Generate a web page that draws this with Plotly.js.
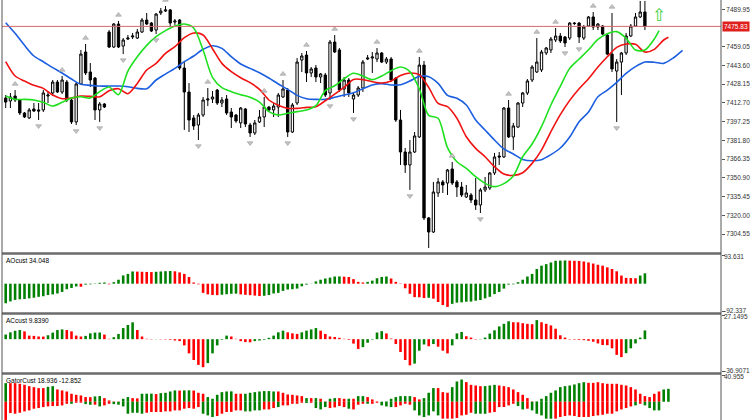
<!DOCTYPE html>
<html><head><meta charset="utf-8">
<script src="https://cdn.plot.ly/plotly-3.0.1.min.js"></script>
<style>html,body{margin:0;padding:0;background:#fff;}#chart{width:752px;height:420px;}</style>
</head><body><div id="chart"></div>
<script>
// ---------- price data (bar index 0..136) ----------
const openP = [
7416.7,7414.3,7418.4,7415.1,7404.4,7400.3,7407.7,7406.9,7406.9,7418.4,
7420.9,7429.9,7421.7,7429.9,7415.1,7397.0,7428.3,7454.7,7438.2,7433.2,
7406.9,7411.8,7471.2,7458.8,7477.8,7459.6,7465.4,7467.1,7466.2,7471.2,
7481.1,7478.6,7472.8,7486.9,7488.5,7489.4,7479.4,7481.1,7441.5,7421.7,
7400.3,7394.5,7402.7,7415.1,7415.9,7423.3,7412.6,7415.9,7405.2,7402.7,
7396.2,7407.7,7394.5,7387.9,7397.0,7401.1,7409.3,7406.9,7409.3,7417.6,
7423.3,7388.7,7412.6,7448.1,7452.2,7437.4,7441.5,7434.1,7435.7,7420.9,
7462.9,7456.4,7424.2,7431.6,7415.9,7419.2,7425.0,7448.9,7449.7,7448.9,
7453.9,7446.4,7448.9,7433.2,7398.6,7372.2,7361.5,7372.2,7384.6,7443.9,
7317.8,7306.2,7338.4,7347.5,7346.6,7358.2,7347.5,7343.3,7335.1,7336.7,
7332.6,7328.5,7340.9,7342.5,7354.9,7368.9,7368.1,7408.5,7384.6,7392.8,
7412.6,7420.9,7431.6,7438.2,7439.9,7453.9,7456.4,7464.6,7467.9,7467.1,
7466.2,7478.6,7478.6,7466.2,7476.1,7483.6,7475.3,7476.1,7468.7,7453.0,
7439.0,7446.4,7453.9,7467.9,7476.1,7483.6,7487.7];
const highP = [
7419.2,7420.9,7423.3,7415.9,7405.2,7408.5,7412.6,7412.6,7423.3,7422.5,
7431.6,7431.6,7434.9,7431.6,7416.7,7429.9,7456.4,7461.3,7445.6,7434.1,
7413.4,7412.6,7472.8,7478.6,7480.3,7466.2,7468.7,7470.4,7473.7,7482.7,
7486.9,7479.4,7486.9,7491.0,7492.6,7490.2,7481.9,7481.9,7446.4,7429.1,
7402.7,7404.4,7417.6,7425.0,7422.5,7424.2,7417.6,7419.2,7408.5,7403.5,
7409.3,7408.5,7396.2,7398.6,7406.9,7417.6,7410.1,7412.6,7420.9,7431.6,
7425.0,7412.6,7449.7,7453.9,7455.5,7442.3,7444.0,7437.4,7437.4,7464.6,
7468.7,7458.0,7434.1,7433.2,7420.9,7426.6,7448.1,7452.2,7454.7,7458.0,
7454.7,7450.6,7450.6,7434.1,7406.9,7375.5,7382.1,7388.7,7450.6,7447.3,
7318.6,7347.5,7350.8,7349.1,7358.2,7364.0,7349.1,7347.5,7345.0,7338.4,
7350.8,7342.5,7351.6,7355.7,7371.4,7372.2,7409.3,7415.1,7396.2,7413.4,
7421.7,7432.4,7443.9,7466.2,7456.4,7458.8,7467.1,7474.5,7470.4,7467.9,
7479.4,7479.4,7479.4,7477.0,7484.4,7487.7,7478.6,7476.9,7470.4,7486.9,
7448.9,7454.7,7470.4,7477.8,7486.9,7496.8,7496.8];
const lowP = [
7408.5,7408.5,7413.4,7402.7,7400.3,7399.4,7405.2,7398.6,7405.2,7412.6,
7418.4,7420.9,7420.0,7413.4,7395.3,7394.5,7427.5,7435.7,7425.8,7398.6,
7397.0,7408.5,7458.0,7458.0,7458.0,7453.0,7464.6,7465.4,7465.4,7470.4,
7477.0,7471.2,7469.5,7485.2,7487.7,7475.3,7477.0,7439.9,7390.4,7388.7,
7390.4,7382.1,7401.1,7410.1,7412.6,7411.0,7409.3,7402.7,7392.0,7396.2,
7392.0,7392.8,7384.6,7386.2,7396.2,7392.8,7405.2,7401.1,7401.1,7416.7,
7384.6,7387.9,7411.0,7438.2,7429.9,7434.1,7429.9,7429.1,7417.6,7415.1,
7453.9,7421.7,7417.6,7417.6,7404.4,7417.6,7421.7,7448.1,7437.4,7446.4,
7445.6,7444.8,7429.9,7397.0,7361.5,7354.9,7340.9,7371.4,7383.8,7316.1,
7293.0,7305.4,7335.1,7338.4,7336.7,7345.0,7335.1,7335.1,7334.2,7330.1,
7324.4,7321.9,7339.2,7340.9,7353.2,7361.5,7367.3,7383.8,7373.9,7392.0,
7409.3,7419.2,7429.9,7437.4,7438.2,7452.2,7453.9,7462.9,7462.1,7458.8,
7464.6,7477.0,7462.1,7464.6,7475.3,7472.8,7472.8,7468.7,7452.2,7438.2,
7397.0,7419.2,7452.2,7467.1,7475.3,7482.7,7472.8];
const closeP = [
7413.4,7417.6,7415.1,7404.4,7401.1,7406.9,7406.0,7406.0,7420.9,7419.2,
7429.9,7421.7,7431.6,7415.1,7397.0,7428.3,7453.0,7437.4,7431.6,7406.9,
7411.8,7409.3,7458.8,7477.8,7458.8,7464.6,7466.2,7467.9,7471.2,7481.1,
7477.8,7472.0,7486.0,7488.5,7489.4,7478.6,7480.3,7441.5,7421.7,7398.6,
7393.7,7402.7,7415.1,7415.9,7417.6,7412.6,7415.1,7404.4,7401.1,7397.8,
7408.5,7395.3,7387.9,7396.2,7401.1,7409.3,7406.9,7410.1,7419.2,7424.2,
7388.7,7411.0,7446.4,7451.4,7437.4,7440.7,7434.1,7436.6,7419.2,7462.9,
7454.7,7423.4,7431.6,7420.9,7419.2,7425.0,7446.4,7449.7,7450.6,7453.9,
7446.4,7448.9,7431.6,7398.6,7372.2,7361.5,7372.2,7385.4,7443.9,7317.8,
7306.2,7339.2,7347.5,7345.0,7357.4,7346.6,7343.3,7336.7,7338.4,7332.6,
7328.5,7340.9,7343.3,7354.9,7368.1,7368.1,7408.5,7384.6,7393.7,7412.6,
7420.9,7430.8,7442.3,7446.4,7454.7,7458.0,7465.4,7467.9,7463.8,7462.1,
7478.6,7478.2,7467.1,7475.3,7483.6,7475.3,7477.8,7469.5,7453.0,7440.7,
7446.4,7453.9,7467.9,7476.1,7483.6,7487.7,7475.83];

// ---------- Alligator lines (sampled every 2 bars, already shifted) ----------
const jawIdx = [];  for (let i = 0; i <= 144; i += 2) jawIdx.push(i);
const teethIdx = []; for (let i = 0; i <= 140; i += 2) teethIdx.push(i); teethIdx.push(141);
const lipsIdx = [];  for (let i = 0; i <= 138; i += 2) lipsIdx.push(i); lipsIdx.push(139);
const jawVals = [
7478.9,7470.1,7460.2,7451.4,7446.7,7441.8,7437.4,7432.4,7428.0,7427.2,
7426.6,7426.6,7426.6,7426.1,7424.7,7424.4,7431.6,7436.5,7441.2,7446.7,
7451.4,7456.9,7459.9,7457.7,7450.8,7444.8,7441.2,7437.6,7433.2,7428.3,
7423.9,7418.9,7416.2,7415.6,7415.6,7417.3,7419.2,7421.1,7424.4,7427.5,
7428.6,7427.5,7427.7,7430.8,7434.6,7434.3,7428.8,7418.9,7416.5,7411.0,
7398.6,7390.3,7382.1,7374.7,7370.6,7366.1,7365.0,7365.9,7370.0,7375.5,
7384.6,7397.2,7405.2,7417.8,7423.3,7429.7,7437.1,7442.6,7446.4,7446.2,
7445.3,7449.7,7456.1];
const teethVals = [
7446.7,7434.9,7430.8,7427.2,7424.7,7419.2,7416.2,7416.7,7418.4,7418.1,
7417.8,7422.8,7424.4,7420.3,7428.8,7439.8,7445.3,7453.6,7459.1,7466.5,
7470.4,7468.7,7457.4,7445.3,7438.5,7433.5,7429.4,7423.9,7415.1,7410.7,
7408.2,7408.2,7409.0,7409.6,7414.5,7420.0,7425.5,7432.1,7431.9,7430.2,
7429.1,7430.8,7435.4,7437.4,7436.0,7425.5,7412.3,7409.6,7400.0,7384.8,
7375.2,7368.3,7360.1,7354.0,7352.9,7355.1,7362.8,7373.8,7389.0,7403.0,
7414.8,7424.4,7432.7,7442.3,7450.8,7458.5,7461.3,7461.0,7454.7,7456.9,
7464.6,7466.8];
const lipsVals = [
7418.4,7415.6,7415.6,7415.1,7413.2,7410.1,7413.2,7416.7,7417.8,7416.7,
7422.0,7425.8,7419.5,7439.0,7450.8,7460.2,7467.3,7472.3,7476.1,7477.8,
7474.5,7456.3,7433.8,7425.3,7422.0,7419.5,7417.3,7413.4,7405.5,7402.7,
7404.1,7405.5,7406.8,7410.4,7422.8,7426.9,7432.7,7437.1,7434.9,7431.9,
7434.9,7439.3,7442.3,7438.5,7424.4,7402.4,7400.0,7375.8,7364.2,7358.7,
7351.8,7346.3,7343.6,7346.1,7352.4,7368.3,7378.8,7393.1,7411.0,7426.4,
7441.2,7448.9,7456.6,7465.1,7469.8,7471.5,7466.0,7456.3,7456.3,7465.4,
7472.3];

// ---------- fractals & signal ----------
const fractalUpIdx = [2,12,17,24,34,43,55,59,64,70,79,88,95,107,113,117,125,129];
const fractalDownIdx = [7,15,20,25,32,41,52,60,69,74,86,101,119,122,130];
const signalIdx = [139];
const signalPrice = [7484];

// ---------- oscillators ----------
const aoVals = [
-64,-58,-53,-51,-50,-48,-46,-43,-41,-37,
-35,-32,-27,-18,-14,-9,-10,-3,-2,1,
3,4,-2,5,13,27,32,40,39.5,39,
38.5,38,39,40,41,41.5,40.5,37,32,22,
4,-2,-30,-35,-37,-37.5,-36,-34.5,-33,-32.5,
-35,-36.5,-37.5,-39,-40.5,-39.5,-37,-32,-30,-23.5,
-19,-18,-16,-8.5,-3,0.5,7.5,13,17,20,
23.5,23.8,23,22,15,6,4,6,10,18,
22,23.5,17,6,-1,-15,-33,-44,-44.5,-47,
-46,-49,-60,-70,-76,-66,-62,-61,-59,-58.5,
-55.6,-53.5,-48,-43,-34,-27,-16,-3,-2,5,
13,23.5,32,48,59,64,69.5,75,75.5,76,
75.5,75,74.5,72.7,69.5,66,62,59,53.5,48,
40.6,26.7,19,18.5,18,26.7,34.048];
const acVals = [
5.2,7.7,9.5,10.3,8.8,4,3.7,3,2.9,4.4,
7.4,10.3,11,10.3,8.8,4,3,3.7,6.6,7.4,
7.5,5.2,0.4,2.2,5.9,12.5,16,19,10.3,3,
0.4,-0.3,-0.2,-0.3,-0.4,-0.7,-1.5,-2.2,-7,-16,
-23.5,-29,-31.6,-27,-16,-7,-0.7,4,3,0.4,
-2.2,-3.3,-3.5,-2.2,-1.5,-0.7,1.5,4,7.7,9.6,
7.7,6.6,5.9,7.7,9.6,11,12.5,9.6,5.9,3,
2.5,1.5,0.4,-0.7,-5,-11,-9,-4,-0.5,7.5,
9,6.5,0.7,-5.5,-14.5,-23.5,-29.5,-27.5,-13,-6,
-8,-5.5,-8.5,-13,-16,-7,6.5,8.1,3.3,1.8,
-0.4,-0.3,1.8,6.3,10,14.4,17.3,20.2,19.1,19,
18,17.3,16.9,21.5,19.1,17.3,15.5,11.8,4.4,1.8,
-0.4,-0.5,-0.8,-1.1,-1.8,-2.9,-4.8,-6.6,-6.8,-10.3,
-17.7,-20.2,-15.8,-10.3,-4.8,1.8,9.839];
const gatorUpper = [
28.6,28.6,28.6,27.6,26.1,24,22.5,21,21,23,
24,18.9,17.4,15.8,12.3,10.7,9.7,7.2,7,8.2,
8.7,5.6,2,0.5,0.4,4.6,7.2,5.6,5.2,12.3,
12.4,12.5,11.8,13.3,13.8,15.8,17.4,17.2,17.5,17.6,
17.3,13.8,12.3,7.2,4.6,10.7,14.8,15.8,16,12.3,
12.3,12.3,13.8,14.8,15.8,16.4,16.4,15.8,15.8,13.8,
11.2,10.7,9.7,8.7,5.6,5.6,5.6,4.6,0.5,4.6,
5.6,5.6,4.6,4.6,4.6,8.7,8.7,7.2,3.6,0.5,
0.1,0.5,4.6,7.2,8.7,8.7,8.7,7.2,3.6,5.6,
13.8,21,21,14.8,13.8,22.5,31.2,34.2,30.2,26,
25,24,24.1,25,26,25,24,22.5,18.9,14.8,
10.7,5.6,0.5,0.6,4.6,8.7,13.8,17.4,22.5,24,
25,26.6,28.6,30.1,29.1,29.1,30.1,28.6,27.6,27.6,
27.6,26.1,25,22.5,18.9,12.3,8.7,7.2,12.3,15.8,
18.9,19.9];
const gatorLower = [
28,17.4,18.4,16.9,14.8,13.3,10.7,9.7,8.2,7.2,
6.6,6.5,5.6,3.1,3.2,1.5,1.4,3.6,4.6,4.5,
7.2,5.6,3.1,3.6,4.6,7.2,18.4,16.9,17,18.4,
16.9,15.8,15.8,15.8,14.8,14.8,13.3,13.3,10.7,9.7,
10.7,8.2,18.4,21,23.5,22,18.4,15.8,15.6,13.3,
13.3,14.8,14.8,13.3,13.3,11.8,11.8,9.7,8.2,5.6,
5.6,3.1,3.1,1.5,2,1.5,9.7,11.8,8.2,9.7,
8.7,6.6,8.2,10.7,11.8,4.6,3.1,3.1,3.1,1.5,
5.6,7.2,8.2,8.2,5.6,3.1,4.6,13.3,21,23.5,
21,14.8,21,26,26,26,25,21,20,16.9,
18.4,18.4,18.5,16.9,15.8,8.2,8.1,5.6,3.1,6.6,
11.8,10.7,13.3,18.4,21,26,26.1,26,23.5,22,
21,22,23.5,23.5,23.5,22,21,20,18.4,18.4,
14.8,11.8,9.7,7.2,5.6,3.1,5.6,9.7,13.3,13.3,
0,0];
// g = growing (green), r = shrinking (red)
const gatorUpperState = "grrrrrrrrggrrrrrrrrggrrrrggrrgggrggggrggrrrggggggrrgggggggrrrrrrgrgrrggrrgrggrrrrggggggrrgggrrrgggrrrrgggrrrrrrrrgggggggggggrrrrrrrrrrrrrrrrgggg";
const gatorLowerState = "rrrrrrrrrrrrrrgrrggrgrrgggggggrrrrrrrrrrrrgggrrrrrrggggrrrgrrrrrgrgggrrrrgrrrgrrgggrrrrggggggrrrrrrrgggrrrrrrggrgggggrrrrrrrrrrrrrrrrrgrgggggg";

// ---------- axis labels ----------
const priceTicks = [7489.95,7459.05,7443.60,7428.15,7412.70,7397.25,7381.80,7366.35,7350.90,7335.45,7320.00,7304.55];
const lastPrice = 7475.83;
const aoScale = [-92.337, 93.631];
const acScale = [-36.9071, 27.1495];
const gatorScaleTop = 40.955;
const panelTitles = ['AOcust 34.048', 'ACcust 9.8390', 'GatorCust 18.936 -12.852'];

// ---------- build ----------
const H = 420;
const py = px => 1 - px / H;
const GREEN = '#008000', RED = '#ff0000';
const barIdx = closeP.map((_, i) => i);
const gatorIdx = gatorUpper.map((_, i) => i);
const risingColors = vals => vals.map((v, i) => (i === 0 || v > vals[i - 1]) ? GREEN : RED);
const stateColors = s => s.split('').map(c => c === 'g' ? GREEN : RED);
const fmt = v => v.toFixed(2);
const font = 'Liberation Sans, Arial, sans-serif';
const arrowGap = 5;

const traces = [
  {type: 'candlestick', x: barIdx, open: openP, high: highP, low: lowP, close: closeP,
   xaxis: 'x', yaxis: 'y', hoverinfo: 'skip', whiskerwidth: 0,
   increasing: {line: {color: '#000', width: 1}, fillcolor: '#ffffff'},
   decreasing: {line: {color: '#000', width: 1}, fillcolor: '#000000'}},
  {type: 'scatter', mode: 'lines', x: jawIdx, y: jawVals, xaxis: 'x', yaxis: 'y',
   line: {color: '#1b5ee0', width: 1.6, shape: 'spline', smoothing: 0.8}, hoverinfo: 'skip'},
  {type: 'scatter', mode: 'lines', x: teethIdx, y: teethVals, xaxis: 'x', yaxis: 'y',
   line: {color: '#f01212', width: 1.6, shape: 'spline', smoothing: 0.8}, hoverinfo: 'skip'},
  {type: 'scatter', mode: 'lines', x: lipsIdx, y: lipsVals, xaxis: 'x', yaxis: 'y',
   line: {color: '#1fe01f', width: 1.6, shape: 'spline', smoothing: 0.8}, hoverinfo: 'skip'},
  {type: 'scatter', mode: 'markers', x: fractalUpIdx, y: fractalUpIdx.map(i => highP[i] + arrowGap),
   xaxis: 'x', yaxis: 'y', marker: {symbol: 'triangle-up', size: 5, color: '#c4c4c4', line: {color: '#9a9a9a', width: 0.6}}, hoverinfo: 'skip'},
  {type: 'scatter', mode: 'markers', x: fractalDownIdx, y: fractalDownIdx.map(i => lowP[i] - arrowGap),
   xaxis: 'x', yaxis: 'y', marker: {symbol: 'triangle-down', size: 5, color: '#c4c4c4', line: {color: '#9a9a9a', width: 0.6}}, hoverinfo: 'skip'},
  {type: 'scatter', mode: 'text', x: signalIdx, y: signalPrice, text: signalIdx.map(() => '\u21E7'),
   xaxis: 'x', yaxis: 'y', textfont: {family: 'DejaVu Sans', size: 17, color: '#3ccf3c'}, hoverinfo: 'skip'},
  {type: 'bar', x: barIdx, y: aoVals, xaxis: 'x2', yaxis: 'y2', width: 0.55,
   marker: {color: risingColors(aoVals), line: {width: 0}}, hoverinfo: 'skip'},
  {type: 'bar', x: barIdx, y: acVals, xaxis: 'x3', yaxis: 'y3', width: 0.55,
   marker: {color: risingColors(acVals), line: {width: 0}}, hoverinfo: 'skip'},
  {type: 'bar', x: gatorIdx, y: gatorUpper, xaxis: 'x4', yaxis: 'y4', width: 0.55,
   marker: {color: stateColors(gatorUpperState), line: {width: 0}}, hoverinfo: 'skip'},
  {type: 'bar', x: gatorIdx, y: gatorLower.map(v => -v), xaxis: 'x4', yaxis: 'y4', width: 0.55,
   marker: {color: stateColors(gatorLowerState), line: {width: 0}}, hoverinfo: 'skip'}
];

const xr = [-0.787, 152.19];
const xBase = {range: xr, showgrid: false, zeroline: false, showticklabels: false, ticks: '', showline: false, fixedrange: true};
const tickFont = {family: font, size: 6.5, color: '#333'};
const yBase = {side: 'right', showgrid: false, zeroline: false, showline: false, ticks: 'outside', ticklen: 3,
  tickwidth: 1, tickcolor: '#555', tickfont: tickFont, fixedrange: true};

// scale labels of the indicator windows: max sits just under the top, min just over the bottom
const scaleLabel = (yref, val, isTop) => ({xref: 'paper', yref: yref, x: 1, y: val, xanchor: 'left',
  yanchor: isTop ? 'top' : 'bottom', xshift: 1, yshift: isTop ? 4 : -4, text: String(val), showarrow: false, font: tickFont});

const layout = {
  width: 752, height: 420, margin: {l: 2, r: 31, t: 0, b: 0, pad: 0},
  paper_bgcolor: '#fff', plot_bgcolor: '#fff', showlegend: false, barmode: 'overlay',
  font: {family: font},
  xaxis: Object.assign({}, xBase, {anchor: 'y', rangeslider: {visible: false}}),
  xaxis2: Object.assign({}, xBase, {anchor: 'y2', matches: 'x'}),
  xaxis3: Object.assign({}, xBase, {anchor: 'y3', matches: 'x'}),
  xaxis4: Object.assign({}, xBase, {anchor: 'y4', matches: 'x'}),
  yaxis: Object.assign({}, yBase, {anchor: 'x', domain: [py(252), 1], range: [7289.7, 7497.6],
    tickvals: priceTicks, ticktext: priceTicks.map(fmt)}),
  yaxis2: Object.assign({}, yBase, {anchor: 'x2', domain: [py(312), py(255)],
    range: [aoScale[0] - 0.3, aoScale[1] + 0.3], tickvals: aoScale, showticklabels: false}),
  yaxis3: Object.assign({}, yBase, {anchor: 'x3', domain: [py(372), py(315)],
    range: [acScale[0] - 0.1, acScale[1] + 0.1], tickvals: acScale, showticklabels: false}),
  yaxis4: Object.assign({}, yBase, {anchor: 'x4', domain: [0, py(375)],
    range: [-28.07, gatorScaleTop + 0.2], tickvals: [gatorScaleTop], showticklabels: false}),
  shapes: [
    {type: 'line', xref: 'paper', yref: 'y', x0: 0, x1: 1, y0: lastPrice, y1: lastPrice,
     line: {color: '#d26a6a', width: 1}},
    {type: 'line', xref: 'paper', yref: 'paper', x0: 0, x1: 1, y0: py(253.5), y1: py(253.5), line: {color: '#6b6b6b', width: 2.5}},
    {type: 'line', xref: 'paper', yref: 'paper', x0: 0, x1: 1, y0: py(313.5), y1: py(313.5), line: {color: '#6b6b6b', width: 2.5}},
    {type: 'line', xref: 'paper', yref: 'paper', x0: 0, x1: 1, y0: py(373.5), y1: py(373.5), line: {color: '#6b6b6b', width: 2.5}},
    {type: 'line', xref: 'paper', yref: 'paper', x0: 0, x1: 0, y0: 0, y1: 1, line: {color: '#555', width: 1}},
    {type: 'line', xref: 'paper', yref: 'paper', x0: 1, x1: 1, y0: 0, y1: 1, line: {color: '#555', width: 1}}
  ],
  annotations: [
    {xref: 'paper', yref: 'y', x: 1, y: lastPrice, xanchor: 'left', yanchor: 'middle', xshift: 1,
     text: fmt(lastPrice), showarrow: false, bgcolor: '#e0201c', borderpad: 1,
     font: {family: font, size: 6.5, color: '#fff'}},
    scaleLabel('y2', aoScale[1], true), scaleLabel('y2', aoScale[0], false),
    scaleLabel('y3', acScale[1], true), scaleLabel('y3', acScale[0], false),
    scaleLabel('y4', gatorScaleTop, true),
    {xref: 'paper', yref: 'paper', x: 0, y: py(255), xanchor: 'left', yanchor: 'top', xshift: 2,
     text: panelTitles[0], showarrow: false, font: {family: font, size: 6.5, color: '#000'}},
    {xref: 'paper', yref: 'paper', x: 0, y: py(315), xanchor: 'left', yanchor: 'top', xshift: 2,
     text: panelTitles[1], showarrow: false, font: {family: font, size: 6.5, color: '#000'}},
    {xref: 'paper', yref: 'paper', x: 0, y: py(375), xanchor: 'left', yanchor: 'top', xshift: 2,
     text: panelTitles[2], showarrow: false, font: {family: font, size: 6.5, color: '#000'}}
  ]
};

Plotly.newPlot('chart', traces, layout, {staticPlot: true, displayModeBar: false});
</script></body></html>
